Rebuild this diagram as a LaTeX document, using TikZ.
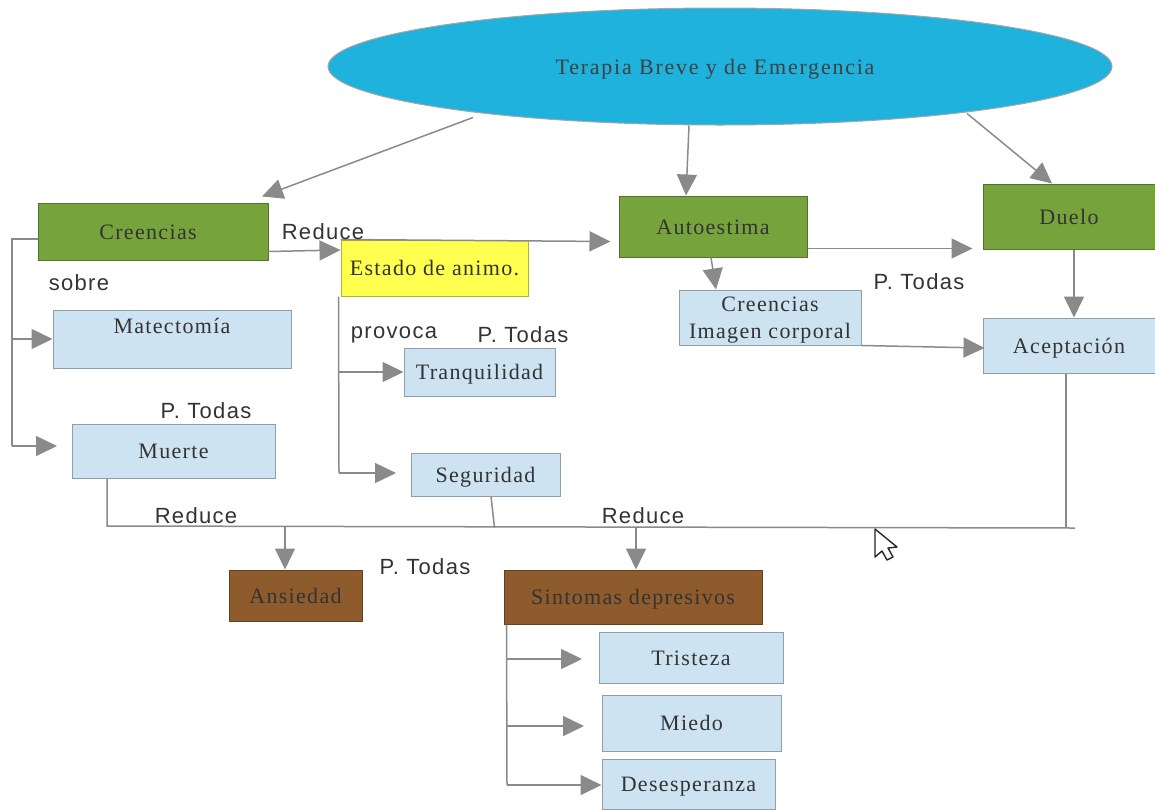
\documentclass[tikz,border=0pt]{standalone}
\usepackage{fontspec}
\setmainfont[LetterSpace=6]{Liberation Serif}
\newfontfamily\etiquetafont[LetterSpace=6]{Liberation Sans}
\newfontfamily\titulofont[LetterSpace=8]{Liberation Serif}
\usetikzlibrary{arrows.meta,shapes.geometric}
\definecolor{verde}{HTML}{77A33D}
\definecolor{celeste}{HTML}{CDE3F2}
\definecolor{cafe}{HTML}{8E5B2C}
\definecolor{amarillo}{HTML}{FFFF4F}
\definecolor{azul}{HTML}{1FB2DD}
\definecolor{linea}{HTML}{8A8A8A}
\tikzset{
	caja/.style={draw=#1!70!black, fill=#1, line width=1pt, inner sep=0pt, text=black!80, font=\fontsize{22}{27}\selectfont, align=center, text height=20pt, text depth=5pt},
	flecha/.style={line width=1.5pt, color=linea, -{Triangle[length=21pt,width=20pt]}},
	linea/.style={line width=1.5pt, color=linea},
	etiqueta/.style={text=black!80, inner sep=0pt, font=\etiquetafont\fontsize{22}{24}\selectfont}
}

\begin{document}
\begin{tikzpicture}[x=1pt, y=-1pt]
		%%%%% START %%%%%
		\useasboundingbox (0, 0) rectangle (1155, 809);
		
		\node[ellipse, draw=black!35, fill=azul, line width=1pt, minimum width=784pt, minimum height=117pt, inner sep=0pt, text=black!75, font=\titulofont\fontsize{22}{24}\selectfont, text height=20pt, text depth=5pt] (terapia) at (720, 66.5) {\hspace*{-10pt}Terapia Breve y de Emergencia};
		
		\node[caja=verde, minimum width=230pt, minimum height=57pt] (creencias) at (153, 231.5) {\hspace*{-10pt}Creencias};
		\node[caja=verde, minimum width=188pt, minimum height=61pt] (autoestima) at (713, 226.5) {Autoestima};
		\node[caja=verde, minimum width=172pt, minimum height=65pt] (duelo) at (1069, 216.5) {Duelo};
		\node[caja=amarillo, minimum width=187pt, minimum height=56pt] (estado) at (434.5, 268) {Estado de animo.};
		
		\node[caja=celeste, minimum width=238pt, minimum height=58pt] (matectomia) at (172, 339) {\raisebox{13pt}{Matectomía}};
		\node[caja=celeste, minimum width=203pt, minimum height=54pt] (muerte) at (173.5, 451) {Muerte};
		\node[caja=celeste, minimum width=151pt, minimum height=48pt] (tranquilidad) at (479.5, 372) {Tranquilidad};
		\node[caja=celeste, minimum width=149pt, minimum height=43pt] (seguridad) at (485.5, 474.5) {Seguridad};
		\node[caja=celeste, minimum width=182pt, minimum height=55pt, text height=46pt] (imagen) at (770, 317.5) {Creencias\\Imagen corporal};
		\node[caja=celeste, minimum width=172pt, minimum height=55pt] (aceptacion) at (1069, 345.5) {Aceptación};
		
		\node[caja=cafe, minimum width=133pt, minimum height=51pt] (ansiedad) at (295.5, 595.5) {Ansiedad};
		\node[caja=cafe, minimum width=258pt, minimum height=54pt] (sintomas) at (633, 597) {Sintomas depresivos};
		\node[caja=celeste, minimum width=184pt, minimum height=51pt] (tristeza) at (691, 657.5) {Tristeza};
		\node[caja=celeste, minimum width=179pt, minimum height=56pt] (miedo) at (691.5, 723) {Miedo};
		\node[caja=celeste, minimum width=173pt, minimum height=50pt] (desesperanza) at (688.5, 784) {Desesperanza};
		
		\coordinate (busizq) at (107, 526);
		\coordinate (busder) at (1075, 528);
		\coordinate (codocreencias) at (12, 239);
		\coordinate (codomuerte) at (12, 446);
		\coordinate (puntamuerte) at (57, 446);
		\coordinate (codoestado) at (339, 473);
		\coordinate (puntaseguridad) at (396, 473);
		\coordinate (codosintomas) at (507, 785);
		\coordinate (puntatristeza) at (582, 659);
		\coordinate (puntamiedo) at (584, 726);
		
		\draw[flecha] ([xshift=-247pt,yshift=8pt]terapia.south) -- ([xshift=109pt,yshift=6pt]creencias.north);
		\draw[flecha] ([xshift=-31pt]terapia.south) -- ([xshift=-27pt]autoestima.north);
		\draw[flecha] ([xshift=247pt,yshift=12pt]terapia.south) -- ([xshift=-17pt]duelo.north);
		
		\draw[flecha] ([yshift=-20pt]creencias.east) -- ([yshift=18pt]estado.west);
		\draw[flecha] (estado.north west) -- ([xshift=-8pt,yshift=-15pt]autoestima.west);
		\draw[flecha] ([yshift=-22pt]autoestima.east) -- ([xshift=-10pt,yshift=-32pt]duelo.west);
		\draw[flecha] ([xshift=-2pt]autoestima.south) -- ([xshift=-54pt]imagen.north);
		\draw[flecha] ([xshift=5pt]duelo.south) -- ([xshift=5pt]aceptacion.north);
		\draw[flecha] (imagen.south east) -- ([xshift=2pt,yshift=-2.5pt]aceptacion.west);
		
		\draw[linea] (creencias.west |- codocreencias) -- (codocreencias) -- (codomuerte);
		\draw[flecha] (codomuerte) -- (puntamuerte);
		\draw[flecha] (codocreencias |- matectomia.west) -- (matectomia.west);
		
		\draw[linea] ([xshift=-2pt]estado.south west) -- (codoestado);
		\draw[flecha] (codoestado) -- (puntaseguridad);
		\draw[flecha] (codoestado |- tranquilidad.west) -- (tranquilidad.west);
		
		\draw[linea] (muerte.south -| busizq) -- (busizq) -- (busder);
		\draw[linea] ([xshift=5.5pt]seguridad.south) -- ([xshift=9pt,yshift=-31pt]seguridad.south);
		\draw[linea] ([xshift=-3pt]aceptacion.south) -- ([xshift=-3pt,yshift=-154pt]aceptacion.south);
		\draw[flecha] ([xshift=-10.5pt,yshift=43pt]ansiedad.north) -- ([xshift=-10.5pt]ansiedad.north);
		\draw[flecha] ([xshift=3pt,yshift=42pt]sintomas.north) -- ([xshift=3pt]sintomas.north);
		
		\draw[linea] ([xshift=3pt]sintomas.south west) -- (codosintomas);
		\draw[flecha] (codosintomas) -- (desesperanza.west |- codosintomas);
		\draw[flecha] (codosintomas |- puntatristeza) -- (puntatristeza);
		\draw[flecha] (codosintomas |- puntamiedo) -- (puntamiedo);
		
		\node[etiqueta] (lreduceuno) at (323, 232) {Reduce};
		\node[etiqueta] (lsobre) at (79, 283) {sobre};
		\node[etiqueta] (lprovoca) at (394, 335) {provoca};
		\node[etiqueta] (ltodasuno) at (523, 335) {P. Todas};
		\node[etiqueta] (ltodasdos) at (206, 411) {P. Todas};
		\node[etiqueta] (ltodastres) at (919, 282) {P. Todas};
		\node[etiqueta] (lreducedos) at (196, 516) {Reduce};
		\node[etiqueta] (lreducetres) at (643, 516) {Reduce};
		\node[etiqueta] (ltodascuatro) at (425, 567) {P. Todas};
		
		% cursor
		\draw[line width=1.4pt, color=black!85, fill=white, line join=round] (875, 529) -- (875, 557) -- (882, 551) -- (887, 560) -- (893, 557) -- (888, 548) -- (897, 547) -- cycle;
		
		%%%%% END %%%%%
	\end{tikzpicture}
\end{document}
